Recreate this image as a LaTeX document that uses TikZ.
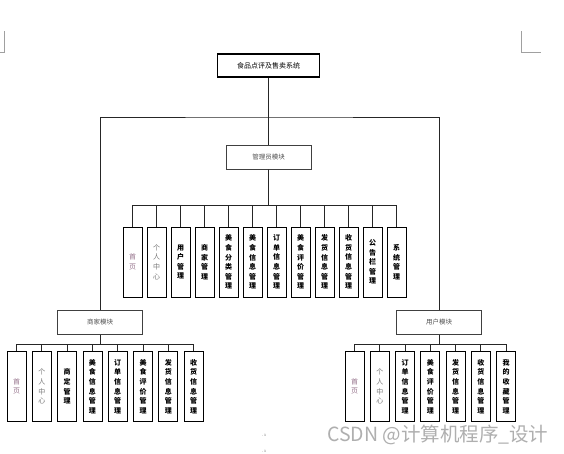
\documentclass[tikz,border=0pt]{standalone}
\usepackage{fontspec}
\newfontfamily\cjk{Noto Sans CJK SC}
\definecolor{pinkgray}{RGB}{150,115,140}
\definecolor{midgray}{RGB}{120,120,120}
\definecolor{modgray}{RGB}{80,80,80}
\definecolor{markgray}{RGB}{160,160,160}
\definecolor{wmgray}{RGB}{175,175,175}
\tikzset{
  topbox/.style={draw, line width=1.1pt, minimum width=102pt, minimum height=23pt, inner sep=0pt, font=\cjk\fontsize{7}{8}\selectfont},
  modbox/.style={draw=black!75, line width=1pt, minimum width=85pt, minimum height=24pt, inner sep=0pt, text=modgray, font=\cjk\fontsize{6.5}{8}\selectfont},
  leaf/.style={draw, line width=0.8pt, minimum width=19pt, minimum height=70pt, inner sep=0pt, align=center, font=\cjk\bfseries\fontsize{7}{9.6}\selectfont},
  leafA/.style={leaf, text=pinkgray, font=\cjk\fontsize{7}{9.6}\selectfont},
  leafB/.style={leaf, text=midgray, font=\cjk\fontsize{7}{9.6}\selectfont},
  conn/.style={line width=1pt, black!85},
}
\begin{document}
\begin{tikzpicture}[x=1pt,y=-1pt]
\fill[white] (0,0) rectangle (564,453);
\useasboundingbox (0,0) rectangle (564,453);

% page corner marks
\draw[markgray, line width=0.8pt] (4,31) -- (4,52) -- (0,52);
\draw[markgray, line width=0.8pt] (521,31) -- (521,52) -- (541,52);
\node[font=\fontsize{5}{5}\selectfont, text=black!60, inner sep=0pt] (m1) at (264,435) {.ı};
\node[font=\fontsize{5}{5}\selectfont, text=black!60, inner sep=0pt] (m2) at (264,451) {.ı};

% top
\node[topbox] (top) at (268.5,65.5) {食品点评及售卖系统};
\node[modbox] (admin) at (268.5,157) {管理员模块};
\node[modbox] (merchant) at (100,322.5) {商家模块};
\node[modbox] (user) at (439,322.5) {用户模块};

\coordinate (bus) at (268.5,117);
\draw[conn] (top.south) -- (admin.north);
\draw[conn] (merchant.north) |- (bus) -| (user.north);

% admin leaves
\foreach \t [count=\i from 0] in {首\\页,个\\人\\中\\心,用\\户\\管\\理,商\\家\\管\\理,美\\食\\分\\类\\管\\理,美\\食\\信\\息\\管\\理,订\\单\\信\\息\\管\\理,美\\食\\评\\价\\管\\理,发\\货\\信\\息\\管\\理,收\\货\\信\\息\\管\\理,公\\告\\栏\\管\\理,系\\统\\管\\理}{
  \ifnum\i=0 \def\sty{leafA}\else\ifnum\i=1 \def\sty{leafB}\else\def\sty{leaf}\fi\fi
  \node[\sty] (a\i) at ({132.5+24*\i},262) {\t};
  \draw[conn] (admin.south) -- ++(0,36) -| (a\i.north);
}

% merchant leaves
\foreach \t [count=\i from 0] in {首\\页,个\\人\\中\\心,商\\定\\管\\理,美\\食\\信\\息\\管\\理,订\\单\\信\\息\\管\\理,美\\食\\评\\价\\管\\理,发\\货\\信\\息\\管\\理,收\\货\\信\\息\\管\\理}{
  \ifnum\i=0 \def\sty{leafA}\else\ifnum\i=1 \def\sty{leafB}\else\def\sty{leaf}\fi\fi
  \node[\sty] (s\i) at ({16.5+25.3*\i},386.5) {\t};
  \draw[conn] (merchant.south) -- ++(0,9) -| (s\i.north);
}

% user leaves
\foreach \t [count=\i from 0] in {首\\页,个\\人\\中\\心,订\\单\\信\\息\\管\\理,美\\食\\评\\价\\管\\理,发\\货\\信\\息\\管\\理,收\\货\\信\\息\\管\\理,我\\的\\收\\藏\\管\\理}{
  \ifnum\i=0 \def\sty{leafA}\else\ifnum\i=1 \def\sty{leafB}\else\def\sty{leaf}\fi\fi
  \node[\sty] (u\i) at ({354.5+25.25*\i},386.5) {\t};
  \draw[conn] (user.south) -- ++(0,9) -| (u\i.north);
}

% watermark
\node[anchor=west, inner sep=0pt, text=wmgray, font=\cjk\fontsize{19.5}{20}\selectfont] (wm) at (327,435) {CSDN @计算机程序\_设计};
\end{tikzpicture}
\end{document}
